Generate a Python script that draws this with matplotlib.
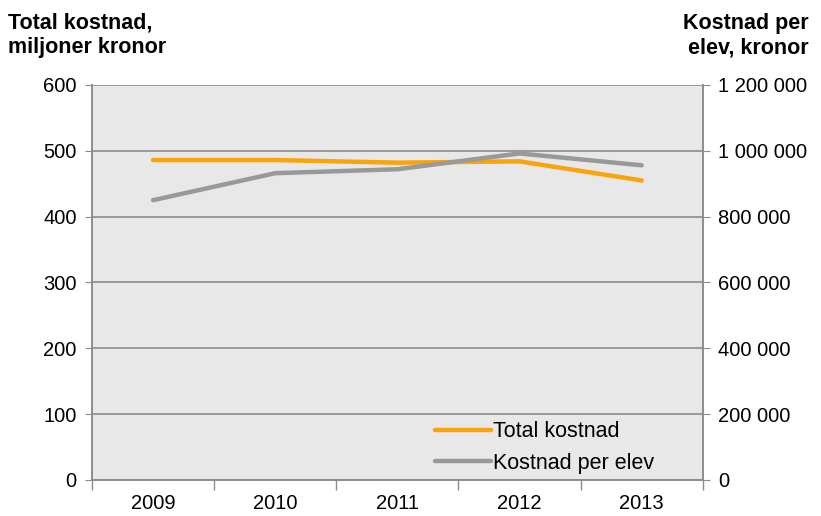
import matplotlib.pyplot as plt
from matplotlib.ticker import FuncFormatter, FixedLocator

years = ["2009", "2010", "2011", "2012", "2013"]
total_kostnad = [486, 486, 482, 484, 455]          # miljoner kronor
kostnad_per_elev = [850000, 932000, 944000, 992000, 956000]  # kronor

plt.rcParams['font.family'] = ['Liberation Sans', 'DejaVu Sans']

grid_col = '#8c8c8c'
fig = plt.figure(figsize=(8.21, 5.16), dpi=100)
ax = fig.add_axes([0.112, 0.0698, 0.744, 0.7655])
ax.set_facecolor('#e8e8e8')
ax2 = ax.twinx()

x = range(len(years))
l1, = ax.plot(x, total_kostnad, color='#FBA30A', lw=3.2, solid_capstyle='round')
l2, = ax2.plot(x, kostnad_per_elev, color='#999999', lw=3.2, solid_capstyle='round')

ax.set_ylim(0, 600)
ax2.set_ylim(0, 1200000)
ax.set_xlim(-0.5, len(years) - 0.5)
ax.set_yticks(range(0, 601, 100))
ax2.set_yticks(range(0, 1200001, 200000))
ax2.yaxis.set_major_formatter(FuncFormatter(lambda v, p: f"{int(v):,}".replace(",", " ")))

ax.set_xticks(list(x))
ax.set_xticklabels(years)
ax.xaxis.set_minor_locator(FixedLocator([i - 0.5 for i in range(len(years) + 1)]))
ax.tick_params(axis='x', which='major', length=0, pad=10, labelsize=14.5)
ax.tick_params(axis='x', which='minor', length=7, color=grid_col, width=1)
ax.tick_params(axis='y', length=5, color=grid_col, labelsize=14.5, pad=6)
ax2.tick_params(axis='y', length=5, color=grid_col, labelsize=14.5, pad=6)

ax.yaxis.grid(True, color=grid_col, lw=1.2)
ax.set_axisbelow(True)
for a in (ax, ax2):
    for s in a.spines.values():
        s.set_color(grid_col)
        s.set_linewidth(1.2)
    a.spines['top'].set_visible(False)

ax.legend([l1, l2], ["Total kostnad", "Kostnad per elev"], loc='center left',
          bbox_to_anchor=(0.562, 0.082), frameon=False, fontsize=15.5,
          handlelength=2.6, handletextpad=0.1, labelspacing=0.5,
          borderpad=0, borderaxespad=0)

fig.text(0.01, 0.975, "Total kostnad,\nmiljoner kronor", fontsize=15.5, fontweight='bold',
         va='top', ha='left', linespacing=1.2)
fig.text(0.985, 0.975, "Kostnad per\nelev, kronor", fontsize=15.5, fontweight='bold',
         va='top', ha='right', linespacing=1.2)

fig.savefig('out.png', dpi=100)
